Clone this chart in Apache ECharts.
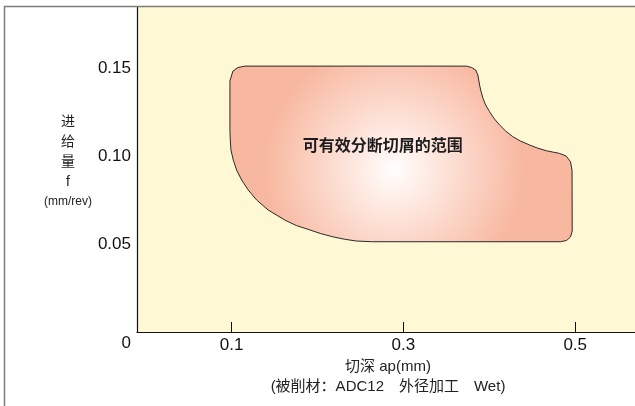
<!DOCTYPE html>
<html>
<head>
<meta charset="utf-8">
<script src="https://cdn.jsdelivr.net/npm/echarts@6/dist/echarts.min.js"></script>
<style>html,body{margin:0;padding:0;background:#fff;}#c{width:635px;height:406px;}</style>
</head>
<body>
<div id="c"></div>
<script>
// ---- data ----
const xTickValues = [0.1, 0.3, 0.5];
const yTickValues = [0, 0.05, 0.10, 0.15];
const xRange = [-0.0102, 0.5696];
const yRange = [0, 0.1847];
// outline of the effective chip-breaking region (ap, f)
const regionX = [0.098,0.1015,0.1073,0.1155,
  0.3733,0.3794,0.3841,0.3867,0.3887,0.3905,0.3926,0.3957,0.4003,0.4056,0.4120,0.4190,0.4274,0.4364,0.4468,0.4562,0.4663,0.4736,0.4817,0.4895,0.4945,0.4963,
  0.4965,0.4945,0.4899,0.4829,
  0.2631,0.2453,0.2317,0.2178,0.2038,0.1911,0.1753,0.1620,0.1426,0.1291,0.1193,0.1116,0.1058,0.1019,0.0992,0.0984,0.098];
const regionY = [0.1428,0.1483,0.1503,0.1511,
  0.1511,0.1503,0.1489,0.1460,0.1403,0.1364,0.1328,0.1290,0.1252,0.1213,0.1176,0.1142,0.1110,0.1085,0.1063,0.1045,0.1030,0.1023,0.1015,0.1000,0.0968,0.0920,
  0.0574,0.0540,0.0520,0.0513,
  0.0513,0.0517,0.0527,0.0541,0.0559,0.0580,0.0605,0.0636,0.0693,0.0750,0.0807,0.0864,0.0920,0.0977,0.1034,0.1091,0.1148];
const regionLabel = '可有效分断切屑的范围';
const regionLabelPos = [0.2759, 0.1063];
const xName1 = '切深 ap(mm)';
const xName2 = '(被削材：ADC12　外径加工　Wet)';
const yNameLines = ['进', '给', '量', 'f', '(mm/rev)'];

const FONT = "'Liberation Sans','Noto Sans CJK SC',sans-serif";
const chart = echarts.init(document.getElementById('c'), null, {renderer: 'canvas'});
chart.setOption({
  backgroundColor: '#ffffff',
  animation: false,
  grid: {left: 137, right: 0, top: 7, bottom: 74, show: true, backgroundColor: '#fef8d5', borderWidth: 0},
  xAxis: {
    type: 'value', min: xRange[0], max: xRange[1],
    axisLine: {show: true, onZero: false, lineStyle: {color: '#111', width: 1.2}},
    axisTick: {show: true, inside: true, length: 10, customValues: xTickValues, lineStyle: {color: '#111', width: 1}},
    axisLabel: {customValues: xTickValues, margin: 5, color: '#111', fontSize: 17, fontFamily: FONT,
      formatter: v => v.toFixed(1)},
    splitLine: {show: false},
    name: '{a|' + xName1 + '}\n{b|' + xName2 + '}',
    nameLocation: 'middle', nameGap: 24,
    nameTextStyle: {
      align: 'center', verticalAlign: 'top', padding: [0, 0, 0, 4],
      rich: {
        a: {fontSize: 15, lineHeight: 20, color: '#222', fontFamily: FONT},
        b: {fontSize: 15, lineHeight: 20, color: '#222', fontFamily: FONT}
      }
    }
  },
  yAxis: {
    type: 'value', min: yRange[0], max: yRange[1],
    axisLine: {show: true, onZero: false, lineStyle: {color: '#111', width: 1.2}},
    axisTick: {show: false},
    splitLine: {show: false},
    axisLabel: {customValues: yTickValues, margin: 6, color: '#111', fontSize: 17, fontFamily: FONT,
      formatter: v => v === 0 ? '{z|0}' : v.toFixed(2),
      rich: {z: {fontSize: 17, fontFamily: FONT, color: '#111', padding: [22, 0, 0, 0]}}
    },
    name: yNameLines.map((s, i) => i === yNameLines.length - 1 ? '{s|' + s + '}' : '{c|' + s + '}').join('\n'),
    nameLocation: 'middle', nameRotate: 0, nameGap: 67,
    nameTextStyle: {
      align: 'center', verticalAlign: 'middle', padding: [0, 0, 16, 0],
      rich: {
        c: {fontSize: 14, lineHeight: 20, color: '#222', fontFamily: FONT},
        s: {fontSize: 12, lineHeight: 18, color: '#222', fontFamily: FONT}
      }
    }
  },
  graphic: [{
    type: 'rect', z: 100, silent: true,
    shape: {x: 4.5, y: 6.5, width: 700, height: 500},
    style: {fill: 'none', stroke: '#7d7d7d', lineWidth: 1.5}
  }],
  series: [{
    type: 'custom',
    coordinateSystem: 'cartesian2d',
    data: [[regionLabelPos[0], regionLabelPos[1]]],
    renderItem: function (params, api) {
      const pts = regionX.map((x, i) => api.coord([x, regionY[i]]));
      const lp = api.coord(regionLabelPos);
      return {
        type: 'group',
        children: [{
          type: 'polygon',
          shape: {points: pts},
          style: {
            fill: {
              type: 'radial', x: 0.48, y: 0.59, r: 0.74,
              colorStops: [{offset: 0, color: '#ffffff'}, {offset: 0.15, color: '#fff3ee'}, {offset: 1, color: '#f8b79f'}]
            },
            stroke: '#2a2a2a', lineWidth: 1, lineJoin: 'round'
          }
        }, {
          type: 'text',
          x: lp[0], y: lp[1],
          style: {text: regionLabel, fill: '#1c1c1c', font: "bold 16px 'Noto Sans CJK SC',sans-serif",
            align: 'center', verticalAlign: 'middle'}
        }]
      };
    }
  }]
});
</script>
</body>
</html>
